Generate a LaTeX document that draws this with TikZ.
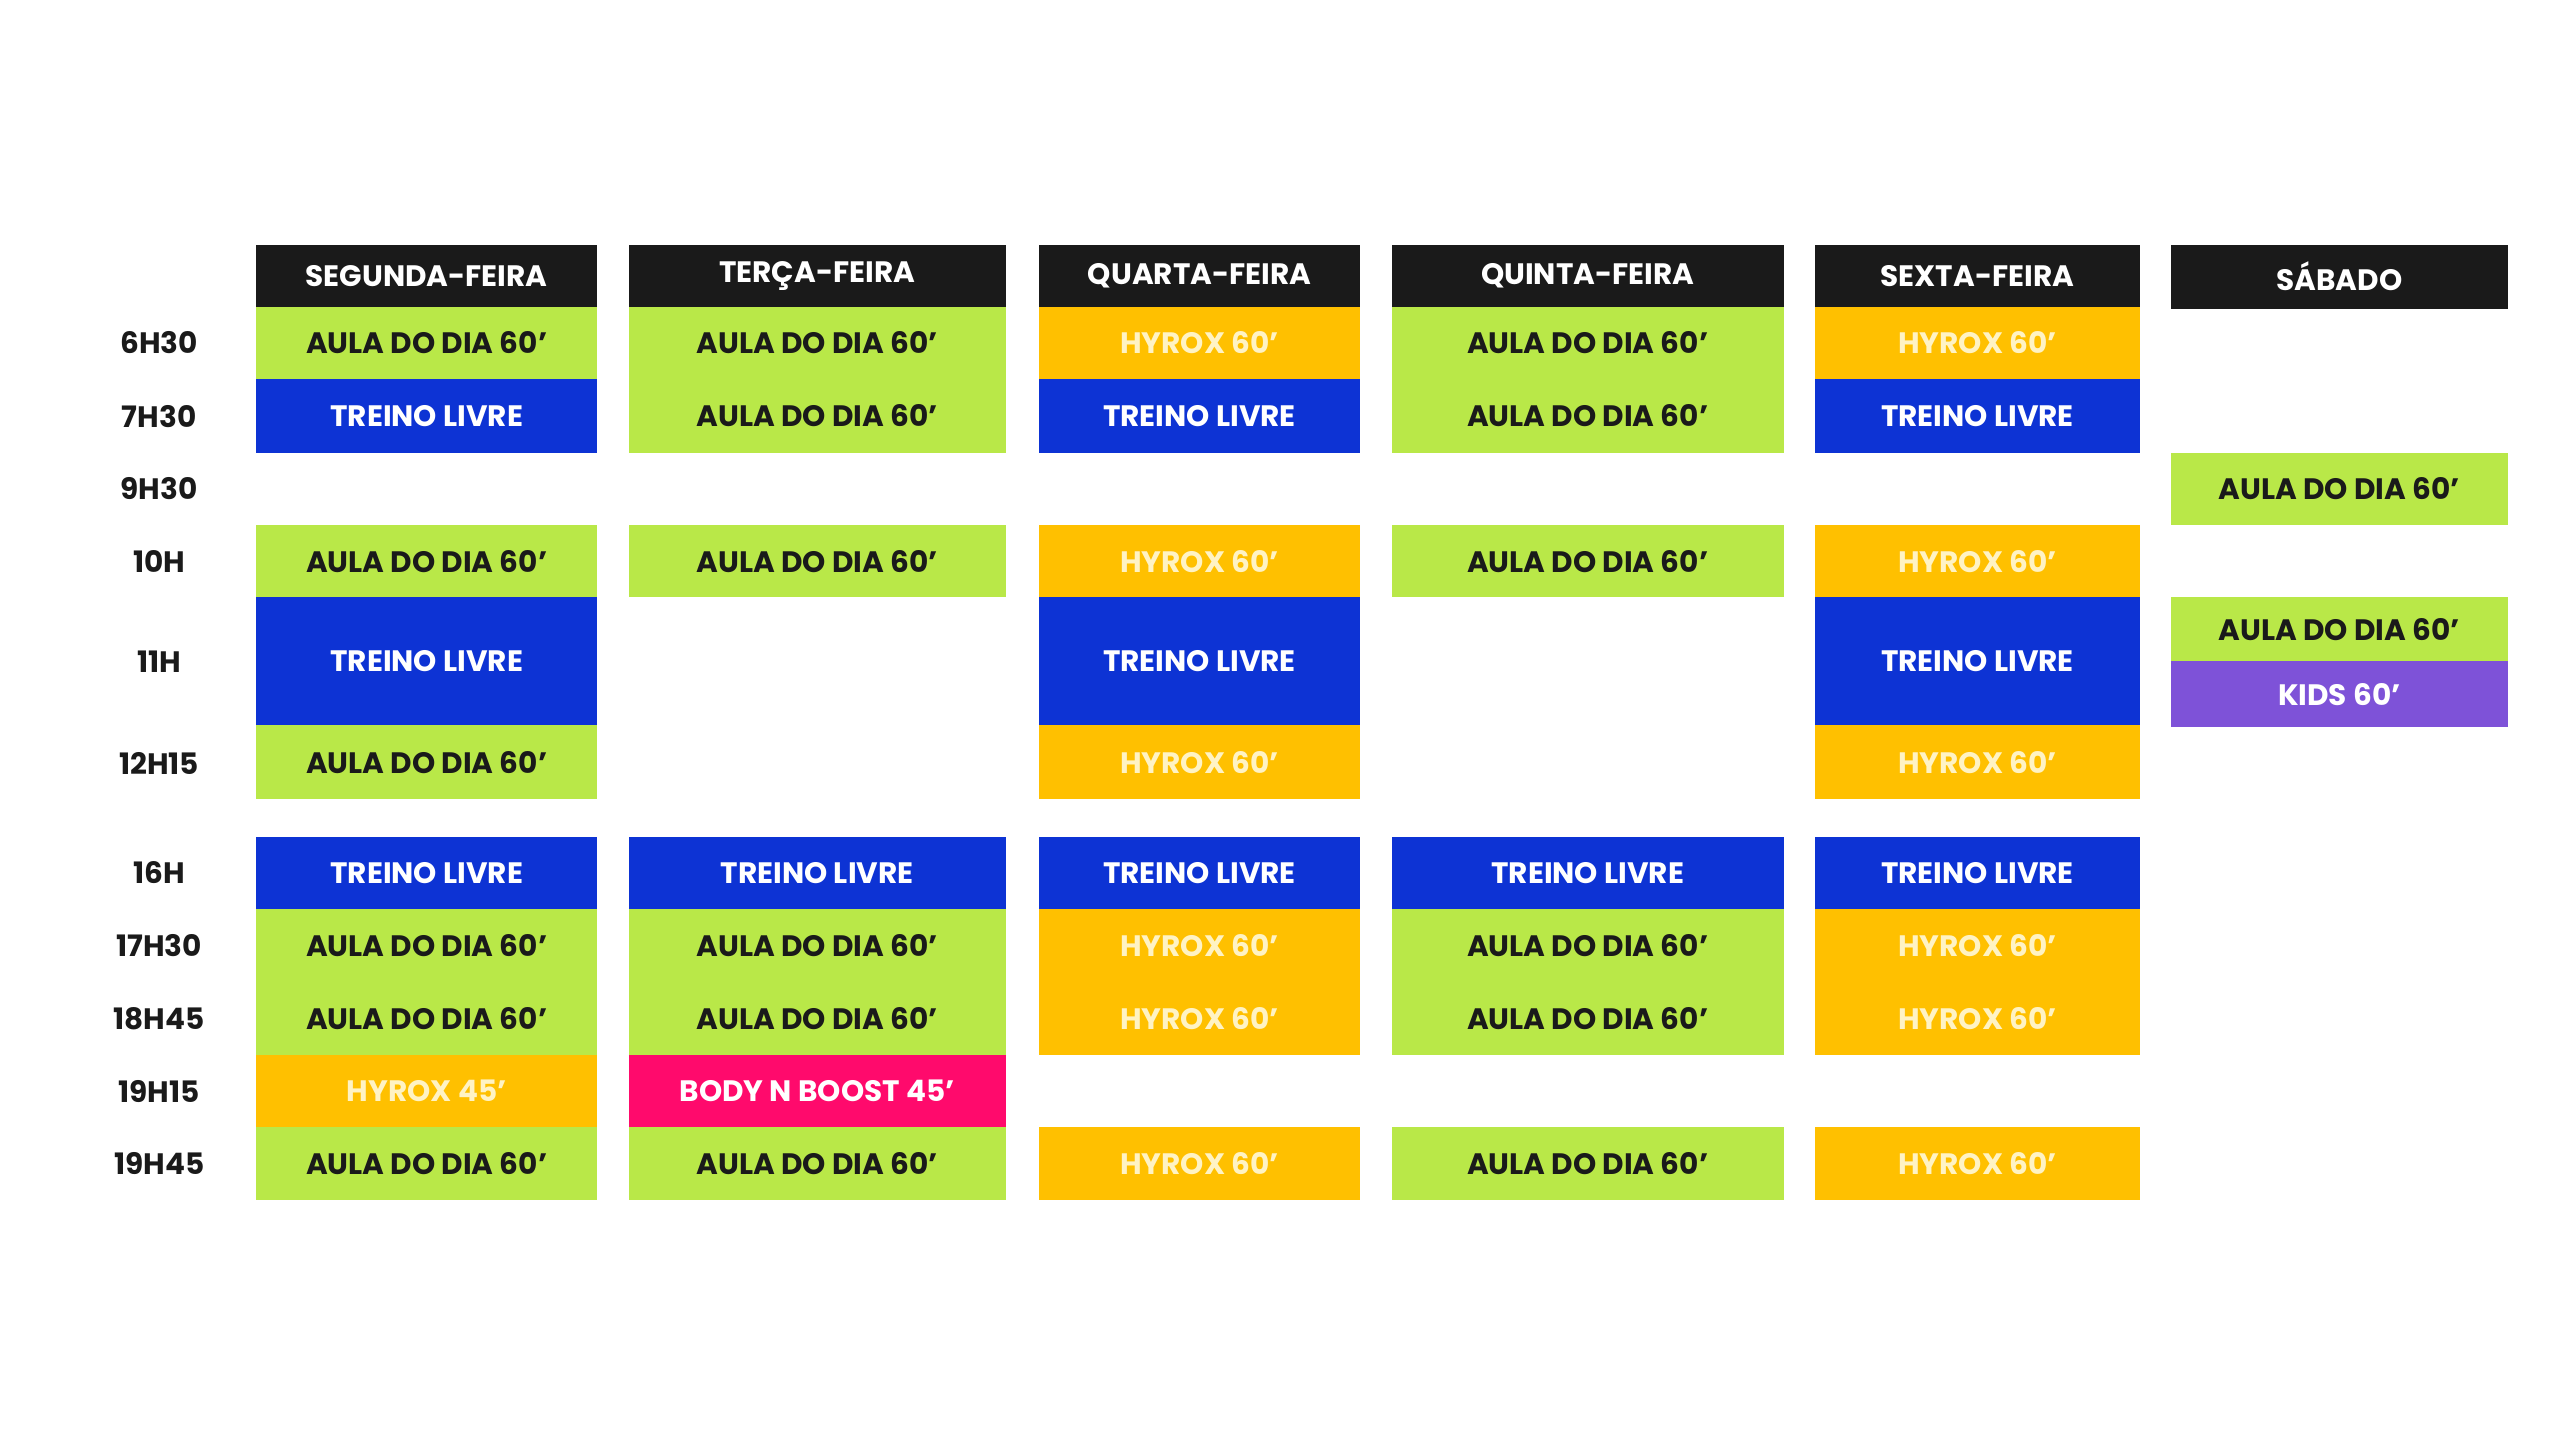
\documentclass[tikz,border=0pt]{standalone}
\usepackage{fontspec}
\setmainfont{Poppins}
\definecolor{cgreen}{HTML}{B9E848}
\definecolor{cblue}{HTML}{0D33D4}
\definecolor{corange}{HTML}{FFC000}
\definecolor{cpink}{HTML}{FF0A6C}
\definecolor{cpurple}{HTML}{7E52D8}
\definecolor{cblack}{HTML}{1A1A1A}
\definecolor{cpale}{HTML}{FFF3C4}
\tikzset{
  cell/.style={inner sep=0pt,outer sep=0pt,font=\bfseries\fontsize{18}{20}\selectfont},
  head/.style={cell,fill=cblack,text=white},
  aula/.style={cell,fill=cgreen,text=cblack},
  livre/.style={cell,fill=cblue,text=white},
  hyrox/.style={cell,fill=corange,text=cpale},
  boost/.style={cell,fill=cpink,text=white},
  kids/.style={cell,fill=cpurple,text=white},
  hour/.style={font=\bfseries\fontsize{18}{20}\selectfont,text=cblack}
}
% name, x1, x2, y1, y2, style, text
\newcommand\slot[7]{\node[#6,minimum width={#3-#2},minimum height={#5-#4}] (#1) at ({(#2+#3)/2},{(#4+#5)/2}) {#7};}

\begin{document}
\begin{tikzpicture}[x=1pt,y=1pt,yscale=-1]
  \useasboundingbox (0,0) rectangle (1560,877.5);

  % headers
  \slot{hmon}{156}{364}{149}{187}{head}{SEGUNDA-FEIRA}
  \slot{htue}{383}{613}{149}{187}{head}{TERÇA-FEIRA}
  \slot{hwed}{633}{829}{149}{187}{head}{QUARTA-FEIRA}
  \slot{hthu}{848}{1087}{149}{187}{head}{QUINTA-FEIRA}
  \slot{hfri}{1106}{1304}{149}{187}{head}{SEXTA-FEIRA}
  \slot{hsat}{1323}{1528}{149}{188}{head}{SÁBADO}

  % hours
  \node[hour] (t1) at (97,209) {6H30};
  \node[hour] (t2) at (97,254) {7H30};
  \node[hour] (t3) at (97,298) {9H30};
  \node[hour] (t4) at (97,342) {10H};
  \node[hour] (t5) at (97,403) {11H};
  \node[hour] (t6) at (97,465) {12H15};
  \node[hour] (t7) at (97,532) {16H};
  \node[hour] (t8) at (97,576) {17H30};
  \node[hour] (t9) at (97,621) {18H45};
  \node[hour] (t10) at (97,665) {19H15};
  \node[hour] (t11) at (97,709) {19H45};

  % segunda
  \slot{mon1}{156}{364}{187}{231}{aula}{AULA DO DIA 60'}
  \slot{mon2}{156}{364}{231}{276}{livre}{TREINO LIVRE}
  \slot{mon3}{156}{364}{320}{364}{aula}{AULA DO DIA 60'}
  \slot{mon4}{156}{364}{364}{442}{livre}{TREINO LIVRE}
  \slot{mon5}{156}{364}{442}{487}{aula}{AULA DO DIA 60'}
  \slot{mon6}{156}{364}{510}{554}{livre}{TREINO LIVRE}
  \slot{mon7}{156}{364}{554}{598}{aula}{AULA DO DIA 60'}
  \slot{mon8}{156}{364}{598}{643}{aula}{AULA DO DIA 60'}
  \slot{mon9}{156}{364}{643}{687}{hyrox}{HYROX 45'}
  \slot{mon10}{156}{364}{687}{731}{aula}{AULA DO DIA 60'}

  % terca
  \slot{tue1}{383}{613}{187}{231}{aula}{AULA DO DIA 60'}
  \slot{tue2}{383}{613}{231}{276}{aula}{AULA DO DIA 60'}
  \slot{tue3}{383}{613}{320}{364}{aula}{AULA DO DIA 60'}
  \slot{tue4}{383}{613}{510}{554}{livre}{TREINO LIVRE}
  \slot{tue5}{383}{613}{554}{598}{aula}{AULA DO DIA 60'}
  \slot{tue6}{383}{613}{598}{643}{aula}{AULA DO DIA 60'}
  \slot{tue7}{383}{613}{643}{687}{boost}{BODY N BOOST 45'}
  \slot{tue8}{383}{613}{687}{731}{aula}{AULA DO DIA 60'}

  % quarta
  \slot{wed1}{633}{829}{187}{231}{hyrox}{HYROX 60'}
  \slot{wed2}{633}{829}{231}{276}{livre}{TREINO LIVRE}
  \slot{wed3}{633}{829}{320}{364}{hyrox}{HYROX 60'}
  \slot{wed4}{633}{829}{364}{442}{livre}{TREINO LIVRE}
  \slot{wed5}{633}{829}{442}{487}{hyrox}{HYROX 60'}
  \slot{wed6}{633}{829}{510}{554}{livre}{TREINO LIVRE}
  \slot{wed7}{633}{829}{554}{598}{hyrox}{HYROX 60'}
  \slot{wed8}{633}{829}{598}{643}{hyrox}{HYROX 60'}
  \slot{wed9}{633}{829}{687}{731}{hyrox}{HYROX 60'}

  % quinta
  \slot{thu1}{848}{1087}{187}{231}{aula}{AULA DO DIA 60'}
  \slot{thu2}{848}{1087}{231}{276}{aula}{AULA DO DIA 60'}
  \slot{thu3}{848}{1087}{320}{364}{aula}{AULA DO DIA 60'}
  \slot{thu4}{848}{1087}{510}{554}{livre}{TREINO LIVRE}
  \slot{thu5}{848}{1087}{554}{598}{aula}{AULA DO DIA 60'}
  \slot{thu6}{848}{1087}{598}{643}{aula}{AULA DO DIA 60'}
  \slot{thu7}{848}{1087}{687}{731}{aula}{AULA DO DIA 60'}

  % sexta
  \slot{fri1}{1106}{1304}{187}{231}{hyrox}{HYROX 60'}
  \slot{fri2}{1106}{1304}{231}{276}{livre}{TREINO LIVRE}
  \slot{fri3}{1106}{1304}{320}{364}{hyrox}{HYROX 60'}
  \slot{fri4}{1106}{1304}{364}{442}{livre}{TREINO LIVRE}
  \slot{fri5}{1106}{1304}{442}{487}{hyrox}{HYROX 60'}
  \slot{fri6}{1106}{1304}{510}{554}{livre}{TREINO LIVRE}
  \slot{fri7}{1106}{1304}{554}{598}{hyrox}{HYROX 60'}
  \slot{fri8}{1106}{1304}{598}{643}{hyrox}{HYROX 60'}
  \slot{fri9}{1106}{1304}{687}{731}{hyrox}{HYROX 60'}

  % sabado
  \slot{sat1}{1323}{1528}{276}{320}{aula}{AULA DO DIA 60'}
  \slot{sat2}{1323}{1528}{364}{403}{aula}{AULA DO DIA 60'}
  \slot{sat3}{1323}{1528}{403}{443}{kids}{KIDS 60'}
\end{tikzpicture}
\end{document}
